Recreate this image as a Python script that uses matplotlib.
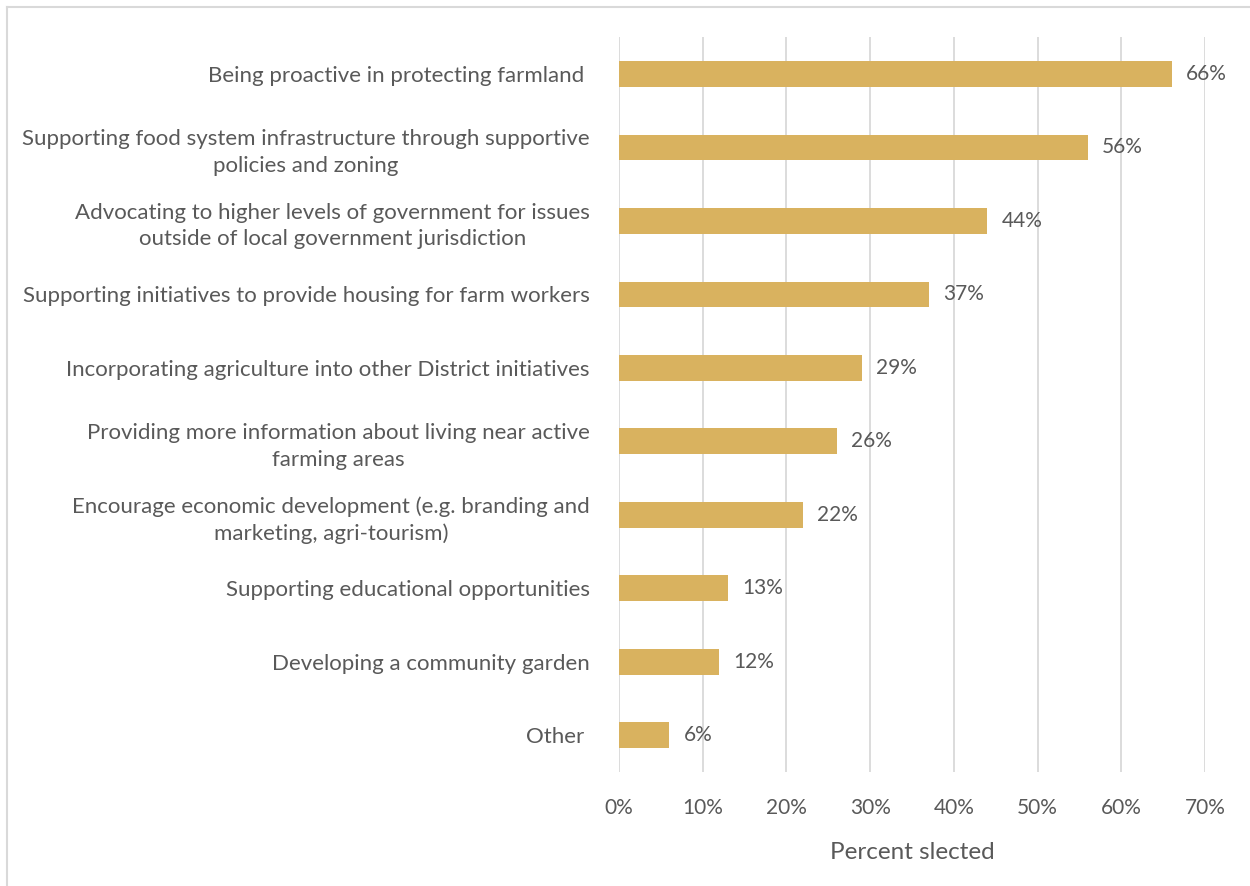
import matplotlib.pyplot as plt
from matplotlib.lines import Line2D
from matplotlib.ticker import FuncFormatter

plt.rcParams['font.family'] = ['Lato', 'DejaVu Sans']

categories = [
    "Being proactive in protecting farmland ",
    "Supporting food system infrastructure through supportive\npolicies and zoning",
    "Advocating to higher levels of government for issues\noutside of local government jurisdiction",
    "Supporting initiatives to provide housing for farm workers",
    "Incorporating agriculture into other District initiatives",
    "Providing more information about living near active\nfarming areas",
    "Encourage economic development (e.g. branding and\nmarketing, agri-tourism)",
    "Supporting educational opportunities",
    "Developing a community garden",
    "Other ",
]
percents = [66, 56, 44, 37, 29, 26, 22, 13, 12, 6]
xticks = [0, 10, 20, 30, 40, 50, 60, 70]

bar_color = "#D9B25F"
text_color = "#595959"
grid_color = "#D9D9D9"

fig = plt.figure(figsize=(12.5, 8.86), dpi=100)
ax = fig.add_axes([0.4952, 0.1287, 0.4688, 0.8293])

ypos = list(range(len(categories)))
ax.barh(ypos, percents, height=0.35, color=bar_color, zorder=3)
for y, v in zip(ypos, percents):
    ax.text(v + 1.7, y, f"{v}%", va="center", ha="left", fontsize=15, color=text_color)

ax.set_yticks(ypos)
ax.set_yticklabels(categories, fontsize=16, color=text_color, linespacing=1.4)
ax.set_ylim(len(categories) - 0.5, -0.5)
ax.set_xlim(0, 70)
ax.set_xticks(xticks)
ax.xaxis.set_major_formatter(FuncFormatter(lambda x, p: f"{x:.0f}%"))
ax.tick_params(axis="x", labelsize=15, colors=text_color, length=0, pad=19)
ax.tick_params(axis="y", length=0, pad=21)
for lbl in ax.get_yticklabels():
    lbl.set_multialignment("center")

ax.grid(axis="x", color=grid_color, linewidth=1.3, zorder=0)
for s in ax.spines.values():
    s.set_visible(False)

ax.set_xlabel("Percent slected", fontsize=17.5, color=text_color, labelpad=17)

# frame edges along top and left of the figure
fig.add_artist(Line2D([7 / 1250, 7 / 1250], [0, 1 - 7 / 886], color=grid_color, linewidth=1.5))
fig.add_artist(Line2D([7 / 1250, 1], [1 - 7 / 886, 1 - 7 / 886], color=grid_color, linewidth=1.5))

fig.savefig("out.png", dpi=100)
